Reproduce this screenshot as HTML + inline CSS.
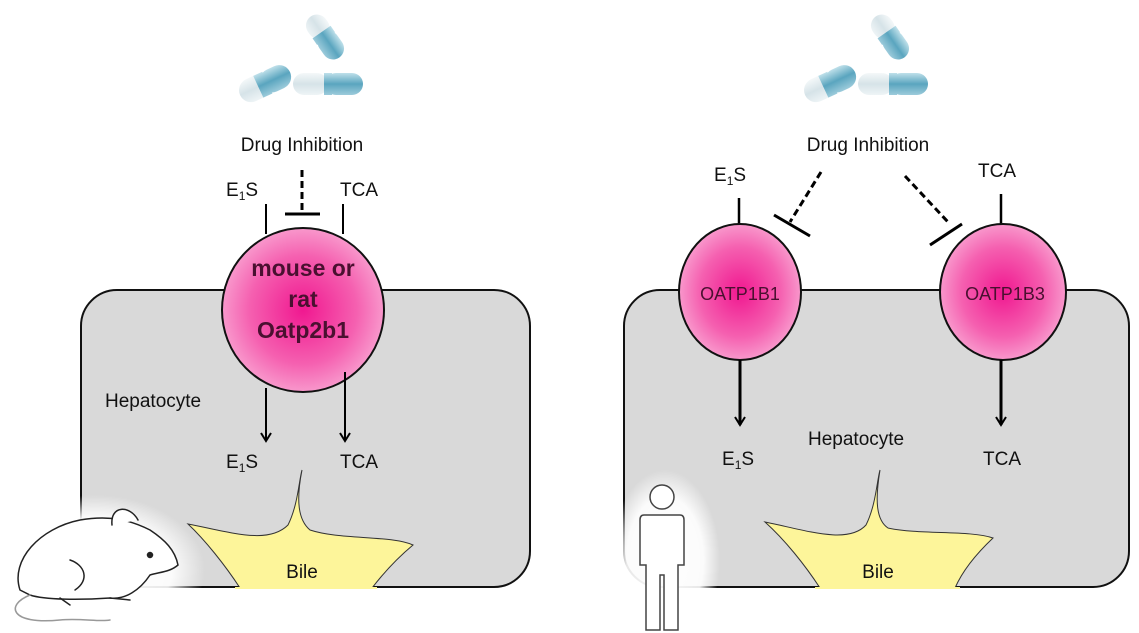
<!DOCTYPE html>
<html><head><meta charset="utf-8"><style>
html,body{margin:0;padding:0;background:#fff;}
svg{display:block;font-family:"Liberation Sans",Arial,sans-serif;}
</style></head><body>
<svg width="1139" height="633" viewBox="0 0 1139 633" xmlns="http://www.w3.org/2000/svg">
<defs>
<radialGradient id="pk" cx="50%" cy="50%" r="55%">
<stop offset="0" stop-color="#f01890"/><stop offset="0.6" stop-color="#f560b0"/><stop offset="1" stop-color="#f9a8d4"/>
</radialGradient>
<linearGradient id="pill" x1="0" y1="0" x2="0" y2="1">
<stop offset="0" stop-color="#bfe0ea"/><stop offset="0.5" stop-color="#5aa5bf"/><stop offset="1" stop-color="#9ccbdb"/>
</linearGradient>
<linearGradient id="pillw" x1="0" y1="0" x2="0" y2="1">
<stop offset="0" stop-color="#f4f8f9"/><stop offset="0.5" stop-color="#d6e3e8"/><stop offset="1" stop-color="#eef4f6"/>
</linearGradient>
<radialGradient id="glow" cx="50%" cy="50%" r="50%">
<stop offset="0" stop-color="#fff" stop-opacity="1"/><stop offset="0.7" stop-color="#fff" stop-opacity="0.9"/><stop offset="1" stop-color="#fff" stop-opacity="0"/>
</radialGradient>
<marker id="ar" markerWidth="12" markerHeight="12" refX="9" refY="6" orient="auto" markerUnits="userSpaceOnUse">
<path d="M1,1 L9,6 L1,11" fill="none" stroke="#000" stroke-width="2"/>
</marker>
<g id="pills">
<g transform="rotate(-25 0 0)"><rect x="-55" y="-12" width="32" height="24" rx="12" fill="url(#pillw)"/><rect x="-32" y="-12" width="32" height="24" rx="12" fill="url(#pill)"/><rect x="-35" y="-12" width="10" height="24" fill="url(#pill)"/></g>
<g transform="translate(35,-35) rotate(55)"><rect x="-25" y="-11" width="25" height="22" rx="11" fill="url(#pillw)"/><rect x="-5" y="-11" width="30" height="22" rx="11" fill="url(#pill)"/><rect x="-6" y="-11" width="8" height="22" fill="url(#pill)"/></g>
<g transform="translate(38,12)"><rect x="-35" y="-11" width="35" height="22" rx="11" fill="url(#pillw)"/><rect x="-3" y="-11" width="38" height="22" rx="11" fill="url(#pill)"/><rect x="-4" y="-11" width="8" height="22" fill="url(#pill)"/></g>
</g>
</defs>

<!-- LEFT PANEL -->
<use href="#pills" transform="translate(290,72)"/>
<rect x="81" y="290" width="449" height="297" rx="36" fill="#d9d9d9" stroke="#111" stroke-width="2"/>
<path d="M302,470 C296,500 298,520 310,530 C340,540 390,535 413,545 C395,560 382,575 372,588 L240,588 C225,565 205,540 188,524 C230,532 268,545 288,525 C298,505 299,480 302,470 Z" fill="#fdf59a" stroke="#333" stroke-width="1"/>
<rect x="235" y="587" width="142" height="2" fill="#fdf59a"/>
<text x="302" y="578" font-size="19" text-anchor="middle" fill="#111">Bile</text>
<text x="302" y="151" font-size="19" text-anchor="middle" fill="#111">Drug Inhibition</text>
<text x="226" y="196" font-size="19" fill="#111">E<tspan font-size="12" dy="4">1</tspan><tspan dy="-4">S</tspan></text>
<text x="340" y="196" font-size="19" fill="#111">TCA</text>
<line x1="266" y1="204" x2="266" y2="234" stroke="#000" stroke-width="2"/>
<line x1="343" y1="204" x2="343" y2="234" stroke="#000" stroke-width="2"/>
<line x1="302" y1="170" x2="302" y2="212" stroke="#000" stroke-width="3" stroke-dasharray="7,4"/>
<line x1="285" y1="214" x2="320" y2="214" stroke="#000" stroke-width="3"/>
<ellipse cx="303" cy="310" rx="81" ry="82" fill="url(#pk)" stroke="#111" stroke-width="2"/>
<g font-size="23" font-weight="bold" text-anchor="middle" fill="#4a1030">
<text x="303" y="276">mouse or</text><text x="303" y="307">rat</text><text x="303" y="338">Oatp2b1</text></g>
<line x1="266" y1="388" x2="266" y2="441" stroke="#000" stroke-width="2" marker-end="url(#ar)"/>
<line x1="345" y1="372" x2="345" y2="441" stroke="#000" stroke-width="2" marker-end="url(#ar)"/>
<text x="105" y="407" font-size="19" fill="#111">Hepatocyte</text>
<text x="226" y="468" font-size="19" fill="#111">E<tspan font-size="12" dy="4">1</tspan><tspan dy="-4">S</tspan></text>
<text x="340" y="468" font-size="19" fill="#111">TCA</text>
<!-- mouse -->
<ellipse cx="95" cy="570" rx="110" ry="75" fill="url(#glow)"/>
<g fill="#fff" stroke="#222" stroke-width="1.5" stroke-linecap="round">
<path d="M20,590 C10,560 40,528 80,520 C110,515 130,520 150,530 C165,540 175,550 178,565 C170,572 160,572 150,575 C140,590 125,600 110,598 C80,600 45,600 30,595 Z"/>
<path d="M112,525 C110,505 130,505 138,520"/>
<circle cx="150" cy="555" r="2.5" fill="#222"/>
<path d="M70,560 C85,565 90,580 75,590"/>
<path d="M30,595 C5,605 10,625 60,620 C80,618 100,622 110,620" fill="none" stroke="#999"/>
<path d="M110,598 L130,600 M60,598 L70,605"/>
</g>

<!-- RIGHT PANEL -->
<use href="#pills" transform="translate(855,72)"/>
<rect x="624" y="290" width="505" height="297" rx="36" fill="#d9d9d9" stroke="#111" stroke-width="2"/>
<path d="M880,470 C875,500 876,520 888,528 C920,535 970,530 993,538 C975,555 962,572 955,588 L820,588 C805,565 785,540 765,522 C805,530 848,545 866,525 C876,505 877,480 880,470 Z" fill="#fdf59a" stroke="#333" stroke-width="1"/>
<rect x="815" y="587" width="145" height="2" fill="#fdf59a"/>
<text x="878" y="578" font-size="19" text-anchor="middle" fill="#111">Bile</text>
<text x="868" y="151" font-size="19" text-anchor="middle" fill="#111">Drug Inhibition</text>
<text x="714" y="181" font-size="19" fill="#111">E<tspan font-size="12" dy="4">1</tspan><tspan dy="-4">S</tspan></text>
<text x="978" y="177" font-size="19" fill="#111">TCA</text>
<line x1="739" y1="198" x2="739" y2="234" stroke="#000" stroke-width="2.5"/>
<line x1="1001" y1="194" x2="1001" y2="228" stroke="#000" stroke-width="2.5"/>
<line x1="821" y1="172" x2="790" y2="222" stroke="#000" stroke-width="3" stroke-dasharray="7,4"/>
<line x1="774" y1="215" x2="810" y2="236" stroke="#000" stroke-width="3"/>
<line x1="905" y1="176" x2="948" y2="222" stroke="#000" stroke-width="3" stroke-dasharray="7,4"/>
<line x1="930" y1="245" x2="962" y2="224" stroke="#000" stroke-width="3"/>
<ellipse cx="740" cy="292" rx="61" ry="68" fill="url(#pk)" stroke="#111" stroke-width="2"/>
<ellipse cx="1003" cy="292" rx="63" ry="68" fill="url(#pk)" stroke="#111" stroke-width="2"/>
<text x="740" y="300" font-size="18" text-anchor="middle" fill="#4a1030">OATP1B1</text>
<text x="1005" y="300" font-size="18" text-anchor="middle" fill="#4a1030">OATP1B3</text>
<line x1="740" y1="360" x2="740" y2="425" stroke="#000" stroke-width="3" marker-end="url(#ar)"/>
<line x1="1001" y1="360" x2="1001" y2="425" stroke="#000" stroke-width="3" marker-end="url(#ar)"/>
<text x="808" y="445" font-size="19" fill="#111">Hepatocyte</text>
<text x="722" y="465" font-size="19" fill="#111">E<tspan font-size="12" dy="4">1</tspan><tspan dy="-4">S</tspan></text>
<text x="983" y="465" font-size="19" fill="#111">TCA</text>
<!-- person -->
<ellipse cx="665" cy="560" rx="55" ry="90" fill="url(#glow)"/>
<g fill="#fff" stroke="#444" stroke-width="1.5">
<circle cx="662" cy="497" r="12"/>
<path d="M644,515 L680,515 Q684,515 684,520 L684,565 L678,565 L678,630 L664,630 L664,575 L660,575 L660,630 L646,630 L646,565 L640,565 L640,520 Q640,515 644,515 Z"/>
</g>
</svg>
</body></html>
